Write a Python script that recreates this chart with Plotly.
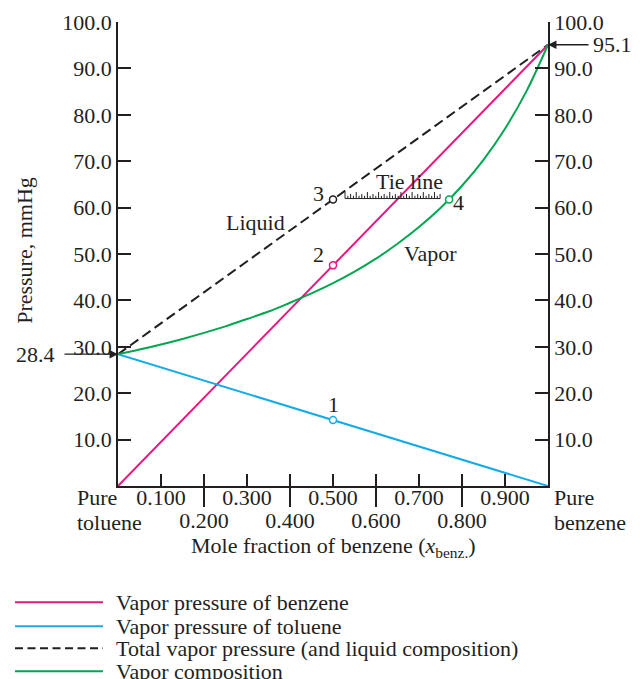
import plotly.graph_objects as go

# ---- data ----
x_ends = [0.0, 1.0]
benzene_vp = [0.0, 95.1]          # vapor pressure of benzene
toluene_vp = [28.4, 0.0]          # vapor pressure of toluene
total_vp = [28.4, 95.1]           # total vapor pressure (liquid composition)

vapor_x = [0.0, 0.05, 0.10, 0.15, 0.20, 0.25, 0.30, 0.35, 0.40, 0.45, 0.50,
           0.55, 0.60, 0.65, 0.70, 0.75, 0.80, 0.85, 0.90, 0.95, 1.0]
vapor_p = [28.4, 29.4, 30.5, 31.7, 33.0, 34.4, 36.0, 37.6, 39.5, 41.5, 43.7,
           46.2, 49.0, 52.2, 55.8, 59.9, 64.7, 70.3, 77.0, 85.1, 95.1]

pt_labels = ["1", "2", "3", "4"]
pt_x = [0.5, 0.5, 0.5, 0.77]
pt_y = [14.2, 47.55, 61.75, 61.75]

y_ticks = [10, 20, 30, 40, 50, 60, 70, 80, 90, 100]
y_ticktext = ["10.0", "20.0", "30.0", "40.0", "50.0", "60.0", "70.0", "80.0", "90.0", "100.0"]
x_ticks = [0.1, 0.2, 0.3, 0.4, 0.5, 0.6, 0.7, 0.8, 0.9]
x_ticktext_row1 = ["0.100", "", "0.300", "", "0.500", "", "0.700", "", "0.900"]
x_major = [0.2, 0.4, 0.6, 0.8]
x_ticktext_row2 = ["0.200", "0.400", "0.600", "0.800"]

PINK = "#E6197F"
CYAN = "#14ACE6"
GREEN = "#00A650"
BLACK = "#231F20"
FONT = "Liberation Serif"
FS = 22

fig = go.Figure()

fig.add_trace(go.Scatter(x=x_ends, y=total_vp, mode="lines",
                         line=dict(color=BLACK, width=2, dash="10px,5px"), showlegend=False))
fig.add_trace(go.Scatter(x=x_ends, y=benzene_vp, mode="lines",
                         line=dict(color=PINK, width=2), showlegend=False))
fig.add_trace(go.Scatter(x=x_ends, y=toluene_vp, mode="lines",
                         line=dict(color=CYAN, width=2), showlegend=False))
fig.add_trace(go.Scatter(x=vapor_x, y=vapor_p, mode="lines",
                         line=dict(color=GREEN, width=2, shape="spline"), showlegend=False))

# tie line (ruler-like hatching) between points 3 and 4
tx, ty = [], []
n = 34
x0, x1 = 0.528, 0.749
base = pt_y[2] + 0.2
for i in range(n + 1):
    xx = x0 + (x1 - x0) * i / n
    h = 1.4 if i % 4 == 0 else (1.0 if i % 2 == 0 else 0.6)
    tx += [xx, xx, None]
    ty += [base, base + h, None]
tx += [x0, x1]
ty += [base, base]
fig.add_trace(go.Scatter(x=tx, y=ty, mode="lines", line=dict(color=BLACK, width=1),
                         showlegend=False, hoverinfo="skip"))

# marked points
pt_colors = [CYAN, PINK, BLACK, GREEN]
fig.add_trace(go.Scatter(x=pt_x, y=pt_y, mode="markers",
                         marker=dict(symbol="circle", size=7, color="white",
                                     line=dict(color=pt_colors, width=1.5)),
                         showlegend=False))

ann = []
lbl_off = [(0, 16), (-15, 11), (-15, 6), (9, -3)]
for lab, xx, yy, (dx, dy) in zip(pt_labels, pt_x, pt_y, lbl_off):
    ann.append(dict(x=xx, y=yy, xref="x", yref="y", text=lab, showarrow=False,
                    xshift=dx, yshift=dy, font=dict(family=FONT, size=FS, color=BLACK)))

for txt, xx, yy in [("Liquid", 0.319, 56.8), ("Vapor", 0.726, 50.2), ("Tie line", 0.679, 65.6)]:
    ann.append(dict(x=xx, y=yy, xref="x", yref="y", text=txt, showarrow=False,
                    font=dict(family=FONT, size=FS, color=BLACK)))

# arrows for 28.4 and 95.1
ann.append(dict(x=0, y=28.4, xref="x", yref="y", ax=-55, ay=0, text="", showarrow=True,
                arrowhead=2, arrowsize=1.3, arrowwidth=1.3, arrowcolor=BLACK))
ann.append(dict(x=-0.142, y=28.4, xref="paper", yref="y", text="28.4", showarrow=False,
                xanchor="right", font=dict(family=FONT, size=FS, color=BLACK)))
ann.append(dict(x=1, y=95.1, xref="x", yref="y", ax=42, ay=0, text="", showarrow=True,
                arrowhead=2, arrowsize=1.3, arrowwidth=1.3, arrowcolor=BLACK))
ann.append(dict(x=1.1, y=95.1, xref="paper", yref="y", text="95.1", showarrow=False,
                xanchor="left", font=dict(family=FONT, size=FS, color=BLACK)))

# pure component labels (one annotation per line)
for txt, xx, yy in [("Pure", -0.1, -0.025), ("toluene", -0.1, -0.079),
                    ("Pure", 1.009, -0.025), ("benzene", 1.009, -0.079)]:
    ann.append(dict(x=xx, y=yy, xref="paper", yref="paper", text=txt,
                    showarrow=False, xanchor="left", yanchor="middle",
                    font=dict(family=FONT, size=FS, color=BLACK)))

# axis titles
ann.append(dict(x=0.5, y=-0.165, xref="paper", yref="paper",
                text="Mole fraction of benzene (<i>x</i><sub>benz.</sub>)",
                showarrow=False, font=dict(family=FONT, size=FS, color=BLACK)))
ann.append(dict(x=-0.251, y=0.508, xref="paper", yref="paper", text="Pressure, mmHg",
                textangle=-90, showarrow=False, font=dict(family=FONT, size=FS, color=BLACK)))

# custom legend
leg_items = [("Vapor pressure of benzene", PINK, "solid"),
             ("Vapor pressure of toluene", CYAN, "solid"),
             ("Total vapor pressure (and liquid composition)", BLACK, "8px,4.5px"),
             ("Vapor composition", GREEN, "solid")]
leg_y = [-0.2506, -0.3024, -0.3498, -0.3994]
shapes = []
for (name, col, dash), yy in zip(leg_items, leg_y):
    shapes.append(dict(type="line", xref="paper", yref="paper", x0=-0.2395, x1=-0.0349,
                       y0=yy, y1=yy, line=dict(color=col, width=2, dash=dash)))
    ann.append(dict(x=-0.009, y=yy, xref="paper", yref="paper", text=name, showarrow=False,
                    xanchor="left", yanchor="middle", font=dict(family=FONT, size=FS, color=BLACK)))

axis_common = dict(showgrid=False, zeroline=False, linecolor=BLACK, linewidth=1.5,
                   tickcolor=BLACK, tickwidth=1.5, automargin=False,
                   tickfont=dict(family=FONT, size=FS, color=BLACK))

fig.update_layout(
    width=643, height=679,
    margin=dict(l=110, r=103, t=14, b=201, autoexpand=False),
    paper_bgcolor="white", plot_bgcolor="white",
    showlegend=False,
    font=dict(family=FONT, size=FS, color=BLACK),
    xaxis=dict(range=[0, 1], tickmode="array", tickvals=x_ticks, ticktext=x_ticktext_row1,
               ticks="inside", ticklen=12, showline=True, tickangle=0,
               ticklabelstandoff=-9, **axis_common),
    xaxis2=dict(range=[0, 1], overlaying="x", anchor="y", side="bottom", tickmode="array",
                tickvals=x_major, ticktext=x_ticktext_row2, ticks="outside", ticklen=20,
                showline=False, showgrid=False, zeroline=False, automargin=False,
                tickangle=0, tickcolor=BLACK, tickwidth=1.5, ticklabelstandoff=-5,
                tickfont=dict(family=FONT, size=FS, color=BLACK)),
    yaxis=dict(range=[0, 100], tickmode="array", tickvals=y_ticks, ticktext=y_ticktext,
               ticks="inside", ticklen=13, showline=True, **axis_common),
    yaxis2=dict(range=[0, 100], overlaying="y", anchor="x", side="right", tickmode="array",
                tickvals=y_ticks, ticktext=y_ticktext, ticks="inside", ticklen=13,
                showline=True, **axis_common),
    annotations=ann,
    shapes=shapes,
)
# dummy traces to activate secondary axes
fig.add_trace(go.Scatter(x=[None], y=[None], xaxis="x2", yaxis="y", showlegend=False))
fig.add_trace(go.Scatter(x=[None], y=[None], xaxis="x", yaxis="y2", showlegend=False))

fig.write_html("out.html")
